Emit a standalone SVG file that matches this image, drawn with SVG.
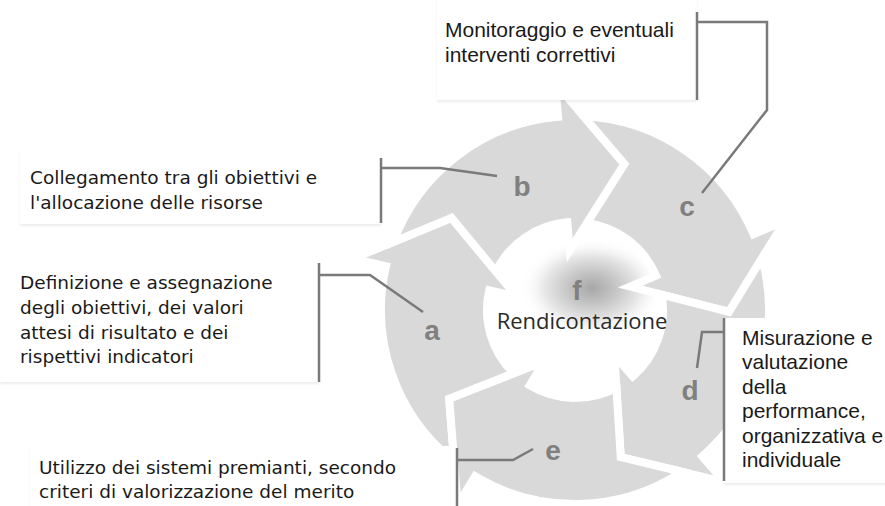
<svg xmlns="http://www.w3.org/2000/svg" width="885" height="506" viewBox="0 0 885 506">
  <defs>
    <radialGradient id="glow" cx="0.5" cy="0.5" r="0.5">
      <stop offset="0" stop-color="#a8a8a8"/>
      <stop offset="0.3" stop-color="#c2c2c2"/>
      <stop offset="0.65" stop-color="#e6e6e6"/>
      <stop offset="1" stop-color="#ffffff" stop-opacity="0"/>
    </radialGradient>
    <filter id="shadow" x="-5%" y="-5%" width="110%" height="120%">
      <feDropShadow dx="0" dy="2" stdDeviation="1.2" flood-color="#000" flood-opacity="0.07"/>
    </filter>
    <style>
      .arrow { fill: #d9d9d9; stroke: #ffffff; stroke-width: 8; stroke-linejoin: miter; stroke-miterlimit: 10; }
      .box { fill: #ffffff; filter: url(#shadow); }
      .lead { fill: none; stroke: #7a7a7a; stroke-width: 2.5; }
      .letter { font-family: "Liberation Sans", Arial, sans-serif; font-weight: bold; font-size: 28px; fill: #808080; text-anchor: middle; }
      .verd { font-family: "DejaVu Sans", Verdana, sans-serif; font-size: 18.5px; fill: #1a1a1a; }
      .arial { font-family: "Liberation Sans", Arial, sans-serif; font-size: 21px; fill: #1a1a1a; }
      .center { font-family: "Open Sans", "DejaVu Sans", sans-serif; font-size: 22px; fill: #2a2a2a; text-anchor: middle; }
    </style>
  </defs>
  <rect width="885" height="506" fill="#ffffff"/>

  <ellipse cx="592" cy="288" rx="72" ry="50" fill="url(#glow)"/>

  <g id="cycle">
    <path id="arrow-a" class="arrow" d="M454.15,461.76 A194,194 0 0 1 385.97,266.36 L352.84,258.71 L451.54,217.89 L516.54,296.50 L489.26,290.20 A88,88 0 0 0 513.92,373.35 L449.20,398.88 Z"/>
    <path id="arrow-b" class="arrow" d="M393.33,241.97 A194,194 0 0 1 558.09,116.74 L555.13,82.87 L624.46,164.13 L569.77,250.23 L567.33,222.33 A88,88 0 0 0 495.87,271.49 L451.54,217.89 Z"/>
    <path id="arrow-c" class="arrow" d="M583.56,116.19 A194,194 0 0 1 753.58,234.20 L784.87,220.91 L729.02,311.96 L630.23,286.56 L656.00,275.62 A88,88 0 0 0 587.17,222.85 L624.46,164.13 Z"/>
    <path id="arrow-d" class="arrow" d="M761.97,258.25 A194,194 0 0 1 702.28,456.41 L724.58,482.07 L620.73,457.08 L614.36,355.28 L632.73,376.41 A88,88 0 0 0 661.65,294.64 L729.02,311.96 Z"/>
    <path id="arrow-e" class="arrow" d="M682.01,471.82 A194,194 0 0 1 475.08,476.29 L457.57,505.43 L449.20,398.88 L544.10,361.43 L529.68,385.43 A88,88 0 0 0 616.38,387.66 L620.73,457.08 Z"/>
  </g>

  <g id="letters">
    <text class="letter" x="432" y="340">a</text>
    <text class="letter" x="522" y="196">b</text>
    <text class="letter" x="687" y="216">c</text>
    <text class="letter" x="690" y="400">d</text>
    <text class="letter" x="553" y="460">e</text>
  </g>

  <g id="node-f">
    <text class="letter" x="577" y="300">f</text>
    <text class="center" x="582" y="329">Rendicontazione</text>
  </g>

  <g id="node-c">
    <rect class="box" x="437" y="-6" width="260" height="106"/>
    <text class="arial" x="445" y="37">Monitoraggio e eventuali</text>
    <text class="arial" x="445" y="62">interventi correttivi</text>
  </g>

  <g id="node-b">
    <rect class="box" x="20" y="150" width="361" height="74"/>
    <text class="verd" x="30" y="184">Collegamento tra gli obiettivi e</text>
    <text class="verd" x="30" y="209">l'allocazione delle risorse</text>
  </g>

  <g id="node-a">
    <rect class="box" x="0" y="262" width="319" height="120"/>
    <text class="verd" x="20" y="289">Definizione e assegnazione</text>
    <text class="verd" x="20" y="314">degli obiettivi, dei valori</text>
    <text class="verd" x="20" y="339">attesi di risultato e dei</text>
    <text class="verd" x="20" y="363">rispettivi indicatori</text>
  </g>

  <g id="node-e">
    <rect class="box" x="30" y="446" width="427" height="66"/>
    <text class="verd" x="39" y="474">Utilizzo dei sistemi premianti, secondo</text>
    <text class="verd" x="39" y="498">criteri di valorizzazione del merito</text>
  </g>

  <g id="node-d">
    <rect class="box" x="724" y="318" width="170" height="165"/>
    <text class="arial" x="742" y="345">Misurazione e</text>
    <text class="arial" x="742" y="369">valutazione</text>
    <text class="arial" x="742" y="394">della</text>
    <text class="arial" x="742" y="418">performance,</text>
    <text class="arial" x="742" y="443">organizzativa e</text>
    <text class="arial" x="742" y="467">individuale</text>
  </g>

  <g id="connectors">
    <path class="lead" d="M697,12 V100 M697,22 H767 V110 L702,193"/>
    <path class="lead" d="M381,158 V223 M381,168 H440 L497,176"/>
    <path class="lead" d="M319,263 V382 M319,275 H370 L423,312"/>
    <path class="lead" d="M724,318 V481 M724,332 H702 L697,368"/>
    <path class="lead" d="M457,448 V506 M457,460 H513 L533,449"/>
  </g>
</svg>
